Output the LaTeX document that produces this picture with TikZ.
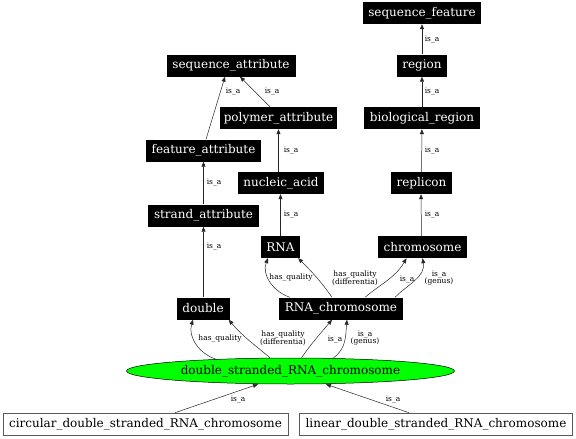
\documentclass[tikz,border=0pt]{standalone}
\usepackage{fontspec}
\setmainfont{DejaVu Serif}
\usetikzlibrary{arrows.meta,shapes.geometric}
\begin{document}
\begin{tikzpicture}[x=1pt,y=-1pt,
  bx/.style={fill=black,text=white,minimum height=22pt,inner xsep=2pt,inner ysep=0pt,font=\fontsize{12}{13}\selectfont},
  wb/.style={draw=black!65,line width=0.6pt,fill=white,minimum height=22pt,inner xsep=2pt,inner ysep=0pt,font=\fontsize{12}{13}\selectfont},
  lbl/.style={font=\fontsize{7.5}{7.5}\selectfont,align=center,inner sep=0pt},
  ed/.style={-{Triangle[length=5pt,width=4pt]},line width=0.5pt,draw=black!85}]
\useasboundingbox (0,0) rectangle (576,439);
% nodes
\node[bx,minimum width=118] (sf) at (422,13) {sequence\_feature};
\node[bx,minimum width=50] (reg) at (422,65.5) {region};
\node[bx,minimum width=116] (bio) at (422,118) {biological\_region};
\node[bx,minimum width=61] (rep) at (421.5,183) {replicon};
\node[bx,minimum width=89] (chr) at (422.5,247) {chromosome};
\node[bx,minimum width=129] (sa) at (231,65.5) {sequence\_attribute};
\node[bx,minimum width=117] (pa) at (278.5,118) {polymer\_attribute};
\node[bx,minimum width=115] (fa) at (203.5,150.5) {feature\_attribute};
\node[bx,minimum width=86] (na) at (281,183) {nucleic\_acid};
\node[bx,minimum width=111] (st) at (203.5,215.5) {strand\_attribute};
\node[bx,minimum width=39] (rna) at (280.5,247) {RNA};
\node[bx,minimum width=53] (dbl) at (203,308.5) {double};
\node[bx,minimum width=124] (rc) at (341,308.5) {RNA\_chromosome};
\node[ellipse,draw=black,fill=green,line width=0.5pt,minimum width=328,minimum height=26,inner sep=0pt,font=\fontsize{12}{13}\selectfont] (ds) at (290.5,371) {double\_stranded\_RNA\_chromosome};
\node[wb,minimum width=285] (cir) at (145.5,424) {circular\_double\_stranded\_RNA\_chromosome};
\node[wb,minimum width=273] (lin) at (436,424) {linear\_double\_stranded\_RNA\_chromosome};
% is_a vertical edges
\draw[ed] (reg) -- (sf);
\node[lbl] at (432,40) {is\_a};
\draw[ed] (bio) -- (reg);
\node[lbl] at (432,92) {is\_a};
\draw[ed] (rep) -- (bio);
\node[lbl] at (432,151) {is\_a};
\draw[ed] ([xshift=-1]chr.north) -- ([xshift=-0.5]rep.south);
\node[lbl] at (432,215) {is\_a};
\draw[ed] ([xshift=-2.5]na.north) -- (pa.south);
\node[lbl] at (291,151) {is\_a};
\draw[ed] (rna.north) -- ([xshift=-0.5]na.south);
\node[lbl] at (291,215) {is\_a};
\draw[ed] (st) -- (fa);
\node[lbl] at (214,183) {is\_a};
\draw[ed] ([xshift=0.5]dbl.north) -- (st.south);
\node[lbl] at (214,247) {is\_a};
% slanted
\draw[ed] ([xshift=2.5]fa.north) -- ([xshift=-6]sa.south);
\node[lbl] at (233,92) {is\_a};
\draw[ed] ([xshift=-8.5]pa.north) -- ([xshift=9]sa.south);
\node[lbl] at (272,92) {is\_a};
% RNA_chromosome edges
\draw[ed] ([xshift=-51]rc.north) to[out=162,in=-112] ([xshift=-12.5]rna.south);
\node[lbl] at (291,278) {has\_quality};
\draw[ed] ([xshift=-9]rc.north) to[out=125,in=-45] ([xshift=-2]rna.south east);
\node[lbl] at (355,278) {has\_quality\\(differentia)};
\draw[ed] ([xshift=24]rc.north) to[out=40,in=-120] ([xshift=-16]chr.south);
\node[lbl] at (407,280) {is\_a};
\draw[ed] ([xshift=54]rc.north) to[out=45,in=-80] (chr.south);
\node[lbl] at (439,278) {is\_a\\(genus)};
% double_stranded edges
\draw[ed] (ds.171) to[out=162,in=-107] ([xshift=-10]dbl.south);
\node[lbl] at (220,339) {has\_quality};
\draw[ed] ([xshift=-20.5]ds.north) to[out=140,in=-50] ([xshift=-1]dbl.south east);
\node[lbl] at (283,338) {has\_quality\\(differentia)};
\draw[ed] ([xshift=11]ds.north) to[out=55,in=-130] ([xshift=-9]rc.south);
\node[lbl] at (335,340) {is\_a};
\draw[ed] ([xshift=43]ds.north) to[out=35,in=-95] ([xshift=6]rc.south);
\node[lbl] at (365,338) {is\_a\\(genus)};
% bottom
\draw[ed] ([xshift=29.5]cir.north) -- ([xshift=-32.5]ds.south);
\node[lbl] at (238,400) {is\_a};
\draw[ed] ([xshift=-27]lin.north) -- ([xshift=35.5]ds.south);
\node[lbl] at (393,400) {is\_a};
\end{tikzpicture}
\end{document}
